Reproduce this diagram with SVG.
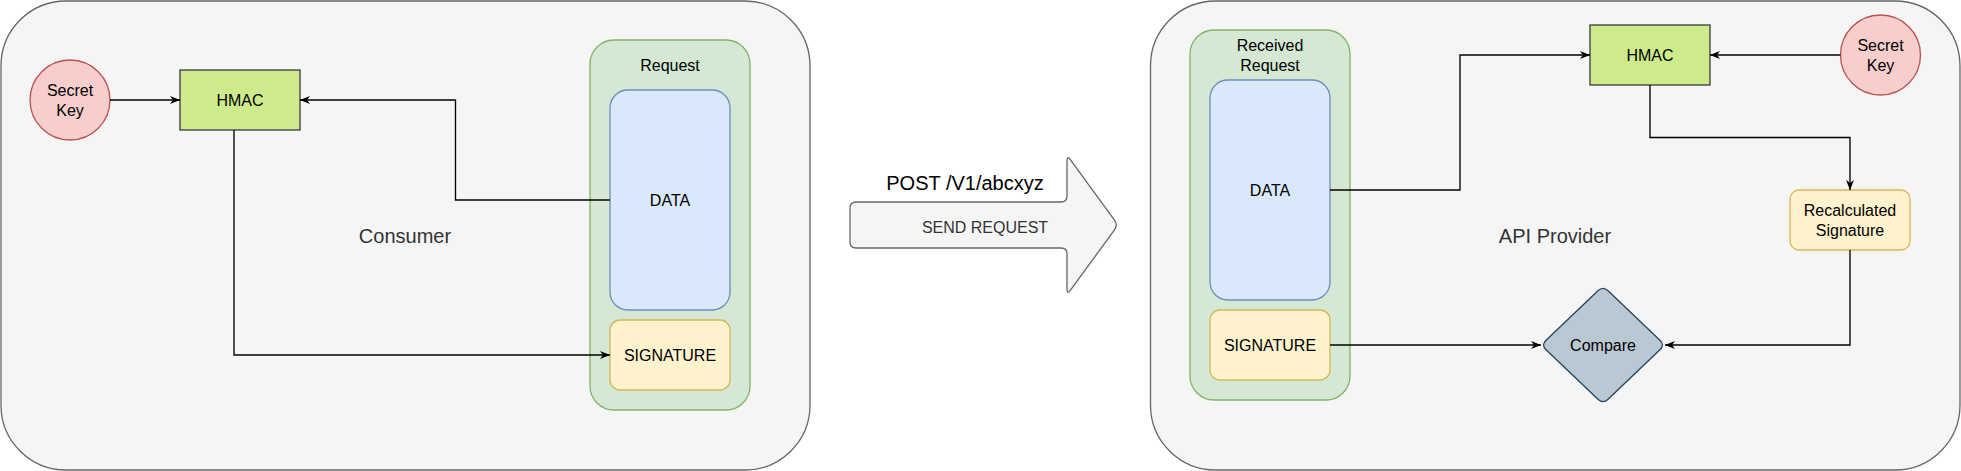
<svg xmlns="http://www.w3.org/2000/svg" width="1961" height="471" viewBox="0 0 1961 471">
<style>
text { font-family: "Liberation Sans", Arial, sans-serif; font-size: 16px; fill: #000000; text-anchor: middle; }
.big { font-size: 20px; fill: #333333; }
.panel { fill: #f5f5f5; stroke: #666666; stroke-width: 1.3; }
.container { fill: #d5e8d4; stroke: #82b366; stroke-width: 1.3; }
.data { fill: #dae8fc; stroke: #6c8ebf; stroke-width: 1.3; }
.sig { fill: #fff2cc; stroke: #d6b656; stroke-width: 1.3; }
.key { fill: #f8cecc; stroke: #b85450; stroke-width: 1.3; }
.hmac { fill: #cdeb8b; stroke: #36393d; stroke-width: 1.3; }
.cmp { fill: #bac8d3; stroke: #23445d; stroke-width: 1.3; }
.edge { fill: none; stroke: #000000; stroke-width: 1.33; marker-end: url(#arr); }
</style>
<defs>
<marker id="arr" viewBox="0 0 10 8" markerWidth="10" markerHeight="8" refX="10" refY="4" orient="auto" markerUnits="userSpaceOnUse">
<path d="M0,0 L10,4 L0,8 L3,4 Z" fill="#000000"/>
</marker>
</defs>

<g id="consumer-panel">
<rect class="panel" x="1" y="1" width="809" height="469" rx="65" ry="65"/>
<text class="big" x="405" y="243">Consumer</text>
</g>
<g id="provider-panel">
<rect class="panel" x="1150.5" y="1" width="809.5" height="469" rx="65" ry="65"/>
<text class="big" x="1555" y="243">API Provider</text>
</g>

<g id="request">
<rect class="container" x="590" y="40" width="160" height="370" rx="24" ry="24"/>
<text x="670" y="71">Request</text>
</g>
<g id="data-left">
<rect class="data" x="610" y="90" width="120" height="220" rx="18" ry="18"/>
<text x="670" y="206">DATA</text>
</g>
<g id="signature-left">
<rect class="sig" x="610" y="320" width="120" height="70" rx="10" ry="10"/>
<text x="670" y="361">SIGNATURE</text>
</g>
<g id="secret-key-left">
<circle class="key" cx="70" cy="100" r="40"/>
<text x="70" y="96">Secret</text>
<text x="70" y="115.5">Key</text>
</g>
<g id="hmac-left">
<rect class="hmac" x="180" y="70" width="120" height="60"/>
<text x="240" y="106">HMAC</text>
</g>

<g id="send-request">
<path d="M856,202 L1061,202 Q1067,202 1067,196 L1067,161 Q1067,155 1070.5,159.8 L1114.5,220.2 Q1118,225 1114.5,229.8 L1070.5,290.2 Q1067,295 1067,289 L1067,254 Q1067,248 1061,248 L856,248 Q850,248 850,242 L850,208 Q850,202 856,202 Z" fill="#f5f5f5" stroke="#666666" stroke-width="1.3"/>
<text class="big" x="965" y="189.5" style="fill:#000000">POST /V1/abcxyz</text>
<text x="985" y="233" style="fill:#333333">SEND REQUEST</text>
</g>

<g id="received-request">
<rect class="container" x="1190" y="30" width="160" height="370" rx="24" ry="24"/>
<text x="1270" y="51">Received</text>
<text x="1270" y="71">Request</text>
</g>
<g id="data-right">
<rect class="data" x="1210" y="80" width="120" height="220" rx="18" ry="18"/>
<text x="1270" y="196">DATA</text>
</g>
<g id="signature-right">
<rect class="sig" x="1210" y="310" width="120" height="70" rx="10" ry="10"/>
<text x="1270" y="351">SIGNATURE</text>
</g>
<g id="hmac-right">
<rect class="hmac" x="1590" y="25" width="120" height="60"/>
<text x="1650" y="61">HMAC</text>
</g>
<g id="secret-key-right">
<circle class="key" cx="1880.5" cy="55" r="40"/>
<text x="1880.5" y="51">Secret</text>
<text x="1880.5" y="70.5">Key</text>
</g>
<g id="recalculated-signature">
<rect class="sig" x="1790" y="190" width="120" height="60" rx="9" ry="9"/>
<text x="1850" y="216">Recalculated</text>
<text x="1850" y="235.5">Signature</text>
</g>
<g id="compare">
<path class="cmp" d="M1546.07,340.18 L1597.93,290.82 Q1603,286 1608.07,290.82 L1659.93,340.18 Q1665,345 1659.93,349.82 L1608.07,399.18 Q1603,404 1597.93,399.18 L1546.07,349.82 Q1541,345 1546.07,340.18 Z"/>
<text x="1603" y="351">Compare</text>
</g>

<g id="connectors">
<path class="edge" d="M110,100 L180,100"/>
<path class="edge" d="M610,200 L455.5,200 L455.5,100 L300,100"/>
<path class="edge" d="M234,130 L234,355 L610,355"/>
<path class="edge" d="M1840.5,55 L1710,55"/>
<path class="edge" d="M1330,190 L1460,190 L1460,55 L1590,55"/>
<path class="edge" d="M1650,85 L1650,137.5 L1850,137.5 L1850,190"/>
<path class="edge" d="M1330,345 L1541,345"/>
<path class="edge" d="M1850,250 L1850,345 L1665,345"/>
</g>
</svg>
